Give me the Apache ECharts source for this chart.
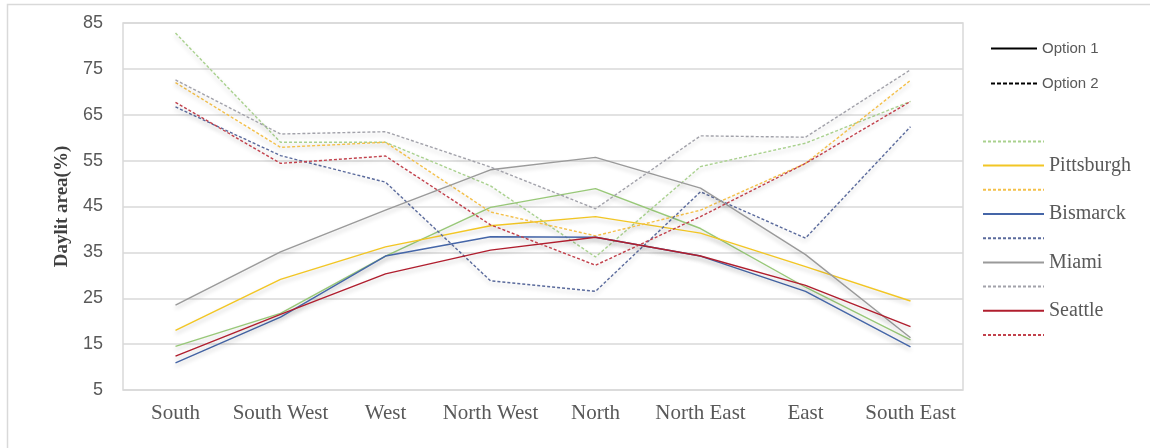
<!DOCTYPE html>
<html>
<head>
<meta charset="utf-8">
<script src="https://cdn.jsdelivr.net/npm/echarts@6/dist/echarts.min.js"></script>
<style>
html,body{margin:0;padding:0;background:#fff;}
#chart{width:1150px;height:448px;}
</style>
</head>
<body>
<div id="chart"></div>
<script>
// Categories and tick settings
var categories = ['South', 'South West', 'West', 'North West', 'North', 'North East', 'East', 'South East'];
var yTicks = { min: 5, max: 85, interval: 10 };

// Series values (Option 1 = solid, Option 2 = dashed)
var greenOpt1      = [14.5, 21.7, 34.2, 44.8, 48.9, 40.2, 27.4, 15.9];
var greenOpt2      = [82.8, 59.0, 59.0, 49.5, 34.0, 53.7, 58.8, 67.9];
var pittsburghOpt1 = [18.0, 29.1, 36.2, 40.8, 42.8, 39.2, 31.9, 24.4];
var pittsburghOpt2 = [72.0, 57.9, 59.0, 43.8, 38.6, 44.2, 54.4, 72.5];
var bismarckOpt1   = [10.9, 20.9, 34.2, 38.4, 38.3, 34.2, 26.5, 14.4];
var bismarckOpt2   = [66.7, 56.1, 50.3, 28.8, 26.5, 48.2, 38.1, 62.4];
var miamiOpt1      = [23.5, 35.1, 44.2, 53.0, 55.7, 49.0, 34.5, 16.4];
var miamiOpt2      = [72.6, 60.8, 61.3, 53.6, 44.5, 60.4, 60.1, 74.8];
var seattleOpt1    = [12.4, 21.5, 30.3, 35.5, 38.3, 34.2, 27.8, 18.8];
var seattleOpt2    = [67.7, 54.4, 56.0, 41.0, 32.2, 42.8, 54.4, 67.9];

var serif = "'Liberation Serif', 'Times New Roman', serif";
var sans = "'Liberation Sans', Arial, sans-serif";

function mk(name, data, color, dashed) {
  return {
    name: name,
    type: 'line',
    data: data,
    symbol: 'none',
    showSymbol: false,
    color: color,
    lineStyle: {
      color: color,
      width: 1.4,
      type: dashed ? [3, 2] : 'solid',
      shadowColor: 'rgba(0,0,0,0.22)',
      shadowBlur: 4,
      shadowOffsetY: 3
    },
    emphasis: { disabled: true },
    silent: true,
    animation: false
  };
}

var series = [
  mk('Series 1', greenOpt1, '#98c878', false),
  mk('Series 1 (Option 2)', greenOpt2, '#a9d18e', true),
  mk('Pittsburgh', pittsburghOpt1, '#f2c624', false),
  mk('Pittsburgh (Option 2)', pittsburghOpt2, '#f4c04a', true),
  mk('Bismarck', bismarckOpt1, '#4566a8', false),
  mk('Bismarck (Option 2)', bismarckOpt2, '#5a6a9c', true),
  mk('Miami', miamiOpt1, '#9a9a9a', false),
  mk('Miami (Option 2)', miamiOpt2, '#a2a2aa', true),
  mk('Seattle', seattleOpt1, '#b01e2e', false),
  mk('Seattle (Option 2)', seattleOpt2, '#c2414c', true),
  { name: 'Option 1', type: 'line', data: [], symbol: 'none', color: '#000', lineStyle: { color: '#000', width: 2, type: 'solid', shadowBlur: 0 } },
  { name: 'Option 2', type: 'line', data: [], symbol: 'none', color: '#000', lineStyle: { color: '#000', width: 2, type: [4, 2], shadowBlur: 0 } }
];

var chart = echarts.init(document.getElementById('chart'), null, { renderer: 'canvas' });
chart.setOption({
  animation: false,
  backgroundColor: '#ffffff',
  graphic: [{
    type: 'rect',
    shape: { x: 7.5, y: 4.5, width: 1160, height: 460 },
    style: { fill: 'none', stroke: '#d9d9d9', lineWidth: 1.5 },
    silent: true, z: -1
  }],
  grid: {
    left: 123, top: 23, right: 187, bottom: 58,
    show: true, borderColor: '#d9d9d9', borderWidth: 1.5
  },
  legend: [{
    data: ['Option 1', 'Option 2'],
    orient: 'vertical',
    left: 990, top: 41,
    padding: 0,
    itemWidth: 46, itemHeight: 14, itemGap: 20,
    selectedMode: false,
    itemStyle: { opacity: 0 },
    lineStyle: { shadowBlur: 0, shadowOffsetY: 0, shadowColor: 'rgba(0,0,0,0)' },
    textStyle: { fontFamily: sans, fontSize: 15, color: '#595959', lineHeight: 15 }
  }, {
    data: ['Series 1 (Option 2)', 'Pittsburgh', 'Pittsburgh (Option 2)', 'Bismarck', 'Bismarck (Option 2)',
           'Miami', 'Miami (Option 2)', 'Seattle', 'Seattle (Option 2)'],
    orient: 'vertical',
    left: 982, top: 135,
    padding: 0,
    itemWidth: 61, itemHeight: 16, itemGap: 7.8,
    selectedMode: false,
    itemStyle: { opacity: 0 },
    lineStyle: { shadowBlur: 0, shadowOffsetY: 0, shadowColor: 'rgba(0,0,0,0)' },
    formatter: function (name) { return name.indexOf('(Option 2)') >= 0 ? '' : name; },
    textStyle: { fontFamily: serif, fontSize: 20, color: '#595959', lineHeight: 16 }
  }],
  xAxis: {
    type: 'category',
    data: categories,
    boundaryGap: true,
    axisLine: { show: false },
    axisTick: { show: false },
    axisLabel: { interval: 0, fontFamily: serif, fontSize: 21, color: '#595959', margin: 13 }
  },
  yAxis: {
    type: 'value',
    min: yTicks.min, max: yTicks.max, interval: yTicks.interval,
    name: 'Daylit area(%)',
    nameLocation: 'middle',
    nameGap: 50,
    nameTextStyle: { fontFamily: serif, fontSize: 19, fontWeight: 'bold', color: '#404040' },
    axisLine: { show: false },
    axisTick: { show: false },
    axisLabel: { fontFamily: sans, fontSize: 18, color: '#595959', margin: 20 },
    splitLine: { lineStyle: { color: '#d9d9d9', width: 1.5 } }
  },
  series: series
});
</script>
</body>
</html>
